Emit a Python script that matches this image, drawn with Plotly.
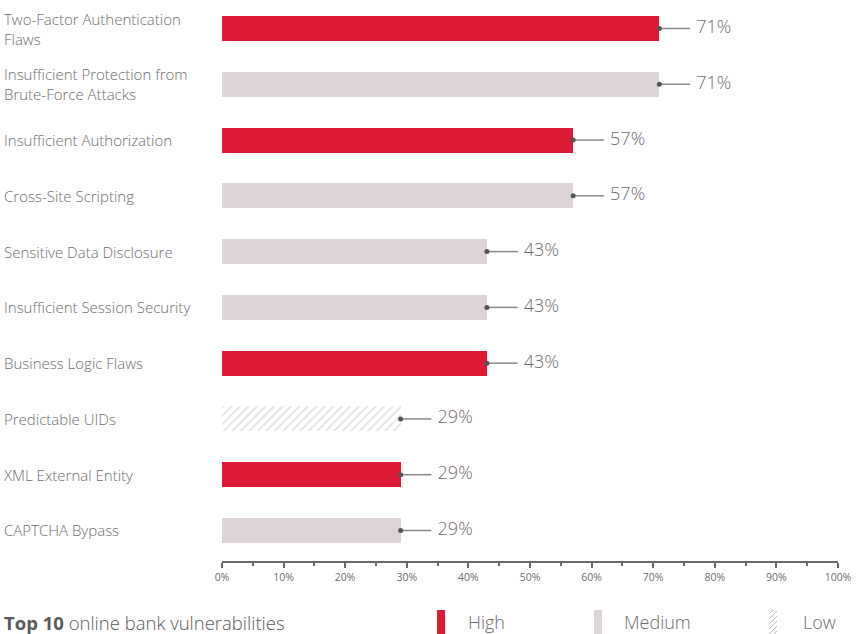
import plotly.graph_objects as go

categories = ["Two-Factor Authentication<br>Flaws",
              "Insufficient Protection from<br>Brute-Force Attacks",
              "Insufficient Authorization",
              "Cross-Site Scripting",
              "Sensitive Data Disclosure",
              "Insufficient Session Security",
              "Business Logic Flaws",
              "Predictable UIDs",
              "XML External Entity",
              "CAPTCHA Bypass"]
values = [71, 71, 57, 57, 43, 43, 43, 29, 29, 29]
severity = ["High", "Medium", "High", "Medium", "Medium", "Medium", "High", "Low", "High", "Medium"]
x_ticks = [0, 10, 20, 30, 40, 50, 60, 70, 80, 90, 100]
x_ticktext = [f"{t}%" for t in x_ticks]
x_minor = [5, 15, 25, 35, 45, 55, 65, 75, 85, 95]
legend_items = ["High", "Medium", "Low"]

RED = "#DC1A36"
MED = "#DDD5D5"
TXT = "#6E6E6E"
FONT = "Open Sans"

W, H = 863, 634
L, R, T, B = 222, 25, 0, 73
pw, ph = W - L - R, H - T - B

def px(xp):
    return (xp - L) / pw

def py(yp):
    return (H - B - yp) / ph

fig = go.Figure()
pos = list(range(len(categories)))
for sev in legend_items:
    ys = [p for p, s in zip(pos, severity) if s == sev]
    xs = [v for v, s in zip(values, severity) if s == sev]
    if sev == "High":
        marker = dict(color=RED, line=dict(width=0))
    elif sev == "Medium":
        marker = dict(color=MED, line=dict(width=0))
    else:
        marker = dict(color="white", line=dict(width=0),
                      pattern=dict(shape="/", fgcolor="#BDBDBD", bgcolor="white",
                                   size=6, solidity=0.25))
    fig.add_trace(go.Bar(x=xs, y=ys, orientation="h", width=0.45, marker=marker,
                         showlegend=False, hoverinfo="skip"))

lx, ly = [], []
for p, v in zip(pos, values):
    lx += [v, v + 5, None]
    ly += [p, p, None]
fig.add_trace(go.Scatter(x=lx, y=ly, mode="lines", line=dict(color="#8A8A8A", width=1.5),
                         showlegend=False, hoverinfo="skip"))
fig.add_trace(go.Scatter(x=values, y=pos, mode="markers",
                         marker=dict(color="#555555", size=5),
                         showlegend=False, hoverinfo="skip"))
fig.add_trace(go.Scatter(x=[v + 6 for v in values], y=pos, mode="text",
                         text=[f"{v}%" for v in values], textposition="middle right",
                         textfont=dict(family=FONT, size=18, color=TXT, weight=300),
                         showlegend=False, hoverinfo="skip"))

# category labels, left-aligned
for p, c in zip(pos, categories):
    fig.add_annotation(x=px(2), xref="paper", y=p, yref="y", text=c, showarrow=False,
                       xanchor="left", yanchor="middle", align="left",
                       font=dict(family=FONT, size=15, color=TXT, weight=300))

# title
fig.add_annotation(x=px(2), xref="paper", y=py(622), yref="paper",
                   text="<b>Top 10</b> <span style='font-weight:300'>online bank vulnerabilities</span>",
                   showarrow=False, xanchor="left", yanchor="middle",
                   font=dict(family=FONT, size=18.5, color="#5A5A5A"))

# legend
leg = [(437, 466, RED, "High"), (594, 622, MED, "Medium"), (769, 801, None, "Low")]
for x0, tx, col, name in leg:
    if col:
        fig.add_shape(type="rect", xref="paper", yref="paper", x0=px(x0), x1=px(x0 + 8),
                      y0=py(634), y1=py(610), fillcolor=col, line=dict(width=0))
    else:
        for k in range(-4, 5):
            ya = 634 - k * 5
            fig.add_shape(type="line", xref="paper", yref="paper",
                          x0=px(x0), y0=py(ya), x1=px(x0 + 8), y1=py(ya - 8),
                          line=dict(color="#BDBDBD", width=1))
    fig.add_annotation(x=px(tx), xref="paper", y=py(622), yref="paper", text=name,
                       showarrow=False, xanchor="left", yanchor="middle",
                       font=dict(family=FONT, size=18, color=TXT, weight=300))
# mask hatch lines outside the swatch
for mx0, mx1, my0, my1 in [(760, 769, 645, 595), (777, 790, 645, 595), (760, 790, 610, 590)]:
    fig.add_shape(type="rect", xref="paper", yref="paper", x0=px(mx0), x1=px(mx1),
                  y0=py(my0), y1=py(my1), fillcolor="white", line=dict(width=0))

fig.update_layout(
    width=W, height=H, margin=dict(l=L, r=R, t=T, b=B),
    plot_bgcolor="white", paper_bgcolor="white",
    bargap=0, barmode="overlay",
    xaxis=dict(range=[0, 100], tickmode="array", tickvals=x_ticks, ticktext=x_ticktext,
               showgrid=False, zeroline=False, showline=True, linecolor="#6A6A6A",
               linewidth=2, ticks="outside", ticklen=5, tickcolor="#6A6A6A", tickwidth=1.5,
               tickfont=dict(family=FONT, size=10.5, color=TXT),
               minor=dict(tickmode="array", tickvals=x_minor, ticks="outside",
                          ticklen=3, tickcolor="#6A6A6A", tickwidth=1.5, showgrid=False)),
    yaxis=dict(range=[9.547, -0.511], showticklabels=False, showgrid=False,
               zeroline=False, showline=False),
)
fig.write_html("out.html")
